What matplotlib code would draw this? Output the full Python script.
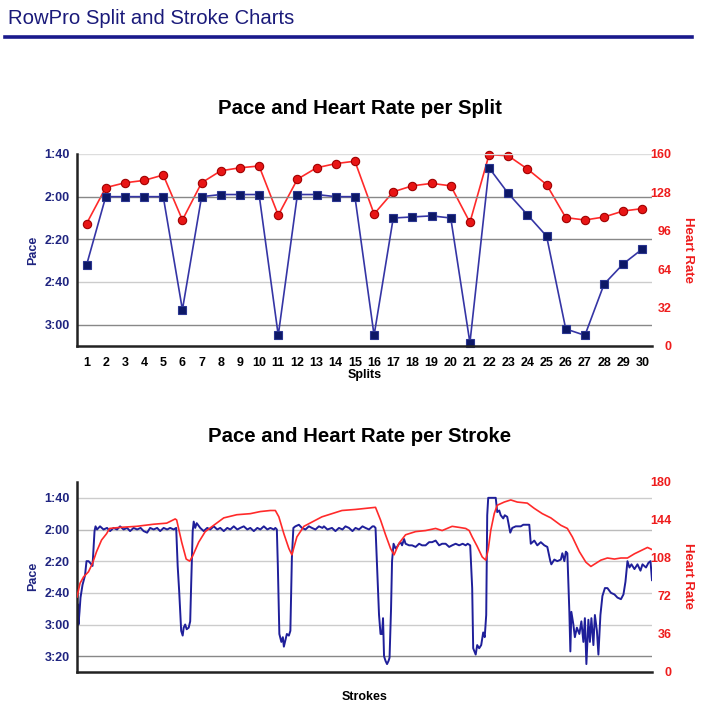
import matplotlib
matplotlib.use("Agg")
import matplotlib.pyplot as plt
from matplotlib.lines import Line2D
from matplotlib.ticker import FuncFormatter

plt.rcParams['font.family'] = ['Liberation Sans', 'DejaVu Sans']

# ---------------- data ----------------
splits = list(range(1, 31))
split_pace = [152, 120, 120, 120, 120, 173, 120, 119, 119, 119,
              185, 119, 119, 120, 120, 185, 130, 129.5, 129, 130,
              188.5, 106.5, 118.5, 128.5, 138.5, 182, 185, 161, 151.5, 144.5]
split_hr = [102, 132, 136, 138, 142.5, 105, 136, 146, 148.5, 150,
            109, 139, 148.5, 152, 154, 110, 128.5, 133.5, 135.5, 133.5,
            103, 159.5, 158.5, 147.5, 134.5, 107, 105, 107.5, 112.5, 114.5]

stroke_pace_x = [0, 1, 3, 5, 7, 11, 16, 19, 23, 26, 31, 35, 37, 40, 46, 53, 60, 66, 73, 80, 86, 93, 100,
                 106, 113, 120, 127, 133, 140, 146, 153, 160, 166, 173, 180, 186, 193, 198, 201, 204,
                 208, 211, 213, 216, 219, 223, 226, 228, 231, 233, 236, 239, 246, 253, 260, 266, 273,
                 280, 286, 293, 300, 306, 313, 320, 326, 333, 340, 346, 353, 360, 366, 373, 380, 386,
                 393, 396, 399, 401, 404, 408, 411, 413, 416, 419, 423, 426, 429, 432, 436, 443, 449,
                 456, 463, 469, 476, 483, 490, 493, 500, 509, 516, 523, 530, 536, 543, 550, 556, 563,
                 570, 576, 583, 590, 593, 596, 599, 603, 606, 609, 611, 613, 616, 619, 622, 624, 627,
                 629, 632, 636, 639, 643, 646, 649, 653, 656, 663, 669, 676, 683, 689, 696, 703, 709,
                 716, 723, 729, 736, 743, 749, 756, 763, 770, 776, 780, 785, 789, 791, 796, 799, 803,
                 807, 811, 814, 817, 818, 819, 821, 829, 836, 839, 843, 846, 851, 854, 859, 865, 869,
                 876, 886, 891, 896, 903, 906, 913, 919, 926, 933, 939, 945, 947, 953, 959, 966, 969,
                 973, 976, 979, 983, 985, 987, 991, 994, 998, 1003, 1007, 1011, 1014, 1017, 1021, 1024,
                 1027, 1031, 1034, 1038, 1041, 1045, 1049, 1054, 1059, 1066, 1073, 1079, 1086, 1091,
                 1095, 1099, 1103, 1107, 1113, 1119, 1125, 1129, 1136, 1141, 1145, 1148]
stroke_pace = [195, 167, 180, 172, 163, 155, 149, 140, 140, 141, 143, 121, 118, 120, 118, 120, 119, 121,
               119, 120, 118, 120, 119, 121, 119, 120, 119, 121, 122, 119, 120, 119, 121, 119, 120, 119,
               120, 119, 143, 159, 184, 187, 182, 180, 183, 182, 178, 154, 121, 115, 119, 116, 119, 121,
               119, 120, 118, 120, 119, 121, 119, 120, 118, 120, 119, 118, 120, 119, 121, 119, 120, 118,
               120, 119, 120, 119, 120, 143, 186, 191, 188, 194, 190, 186, 187, 184, 138, 119, 118, 117,
               119, 120, 118, 119, 120, 118, 119, 118, 120, 119, 121, 119, 120, 118, 119, 121, 119, 120,
               118, 119, 120, 118, 118, 119, 142, 174, 186, 186, 176, 200, 203, 205, 203, 201, 170, 140,
               129, 132, 131, 129, 128, 130, 126, 129, 130, 130, 131, 129, 130, 130, 128, 128, 127, 130,
               129, 129, 131, 130, 129, 130, 129, 130, 129, 130, 157, 195, 199, 193, 195, 193, 185, 188,
               174, 140, 111, 100, 100, 100, 109, 108, 111, 113, 111, 112, 122, 119, 118, 118, 117, 117,
               117, 129, 127, 130, 128, 130, 131, 140, 142, 139, 140, 139, 135, 140, 134, 135, 172, 197,
               172, 180, 188, 182, 186, 178, 191, 176, 205, 177, 191, 176, 193, 174, 184, 199, 174, 162,
               157, 157, 160, 161, 163, 164, 161, 153, 140, 144, 142, 145, 142, 146, 142, 144, 141, 140,
               152]

stroke_hr_x = [0, 6, 13, 23, 31, 39, 49, 59, 65, 86, 119, 153, 179, 196, 199, 209, 218, 225, 231, 243,
               256, 273, 293, 319, 346, 366, 386, 396, 403, 413, 423, 429, 439, 453, 469, 489, 509, 529,
               556, 576, 596, 606, 616, 626, 633, 643, 656, 676, 696, 716, 729, 749, 763, 776, 783, 789,
               799, 809, 816, 821, 826, 833, 839, 853, 866, 879, 899, 913, 929, 946, 966, 979, 989, 1003,
               1016, 1026, 1036, 1046, 1059, 1073, 1086, 1099, 1113, 1126, 1139, 1148]
stroke_hr = [71, 84, 90, 95, 103, 114, 125, 131, 136, 137, 138, 140, 141, 145, 144, 123, 107, 105, 110,
             123, 133, 139, 146, 149, 150, 152, 153, 153, 147, 131, 117, 111, 128, 138, 142, 147, 150, 153,
             154, 155, 156, 144, 130, 117, 111, 122, 130, 133, 134, 136, 134, 138, 137, 136, 134, 128, 119,
             109, 106, 116, 134, 150, 158, 161, 163, 161, 160, 155, 150, 146, 139, 136, 128, 114, 104, 100,
             103, 106, 108, 107, 108, 108, 112, 115, 118, 116]

split_pace_ticks = [100, 120, 140, 160, 180]
split_hr_ticks = [0, 32, 64, 96, 128, 160]
stroke_pace_ticks = [100, 120, 140, 160, 180, 200]
stroke_hr_ticks = [0, 36, 72, 108, 144, 180]

# ---------------- style ----------------
NAVY_TXT = '#1f2480'
RED_TXT = '#ee1c1c'
W, H = 709, 715


def fmt_pace(v, pos=None):
    v = int(round(v))
    return f"{v // 60}:{v % 60:02d}"


def px_axes(l, t, r, b):
    return [l / W, 1 - b / H, (r - l) / W, (b - t) / H]


fig = plt.figure(figsize=(W / 100, H / 100), dpi=100)
fig.patch.set_facecolor('white')

fig.text(8 / W, 1 - 18 / H, "RowPro Split and Stroke Charts", fontsize=14.6,
         color='#1a1a7a', ha='left', va='center')
fig.add_artist(Line2D([5 / W, 692 / W], [1 - 37 / H, 1 - 37 / H], lw=2.6, color='#1a1a8c'))


def style_axes(ax, ax2, pace_lim, pace_ticks, hr_lim, hr_ticks, grid_colors):
    ax.set_ylim(*pace_lim)
    ax.set_yticks(pace_ticks)
    ax.yaxis.set_major_formatter(FuncFormatter(fmt_pace))
    ax2.set_ylim(*hr_lim)
    ax2.set_yticks(hr_ticks)
    for sp in ['top', 'right']:
        ax.spines[sp].set_visible(False)
    for sp in ['top', 'right', 'left', 'bottom']:
        ax2.spines[sp].set_visible(False)
    for sp in ['left', 'bottom']:
        ax.spines[sp].set_color('#222222')
        ax.spines[sp].set_linewidth(1.8)
    ax.tick_params(axis='y', length=0, pad=5, labelsize=9, labelcolor=NAVY_TXT)
    for lab in ax.get_yticklabels():
        lab.set_fontweight('bold')
    ax2.tick_params(axis='y', length=0, pad=14, labelsize=9, labelcolor=RED_TXT)
    for lab in ax2.get_yticklabels():
        lab.set_fontweight('bold')
        lab.set_horizontalalignment('right')
    for t, c in zip(pace_ticks, grid_colors):
        ax.axhline(t, color=c, lw=1.0, zorder=0)


# ---------------- top chart ----------------
ax1 = fig.add_axes(px_axes(77, 154, 652, 346))
ax1b = ax1.twinx()
ax1.set_zorder(ax1b.get_zorder() + 1)
ax1.patch.set_visible(False)

ax1b.plot(splits, split_hr, color='#ff2a2a', lw=1.2, marker='o', markersize=6,
          markerfacecolor='#e81515', markeredgecolor='#a00000', markeredgewidth=0.8, clip_on=False)
ax1.plot(splits, split_pace, color='#3535a5', lw=1.2, marker='s', markersize=5.5,
         markerfacecolor='#0d1866', markeredgecolor='#2a3590', markeredgewidth=0.8, clip_on=False)
ax1.set_xlim(0.5, 30.5)
ax1.set_xticks(splits)
ax1.tick_params(axis='x', length=0, pad=8, labelsize=9)
for lab in ax1.get_xticklabels():
    lab.set_fontweight('bold')
style_axes(ax1, ax1b, (190, 100), split_pace_ticks, (0, 160), split_hr_ticks,
           ['#dddddd', '#888888', '#888888', '#cccccc', '#888888'])
ax1.set_xlabel("Splits", fontsize=9, fontweight='bold', labelpad=0)
ax1.text(-0.0765, 0.5, "Pace", transform=ax1.transAxes, rotation=90, ha='center', va='center',
         fontsize=9, fontweight='bold', color=NAVY_TXT)
ax1.text(1.0626, 0.5, "Heart Rate", transform=ax1.transAxes, rotation=-90, ha='center', va='center',
         fontsize=9.5, fontweight='bold', color=RED_TXT)
fig.text(360 / W, 1 - 108 / H, "Pace and Heart Rate per Split", ha='center', va='center',
         fontsize=14.7, fontweight='bold')

# ---------------- bottom chart ----------------
ax2 = fig.add_axes(px_axes(77, 482, 652, 672))
ax2b = ax2.twinx()
ax2b.plot(stroke_hr_x, stroke_hr, color='#ff2a2a', lw=1.2)
ax2.plot(stroke_pace_x, stroke_pace, color='#1f1f9a', lw=1.4)
ax2.set_xlim(0, 1148)
ax2.set_xticks([])
style_axes(ax2, ax2b, (210, 90), stroke_pace_ticks, (0, 180), stroke_hr_ticks,
           ['#cccccc', '#bbbbbb', '#cccccc', '#cccccc', '#cccccc', '#888888'])
ax2.text(0.5, -0.132, "Strokes", transform=ax2.transAxes, ha='center', va='center',
         fontsize=9, fontweight='bold')
ax2.text(-0.0765, 0.505, "Pace", transform=ax2.transAxes, rotation=90, ha='center', va='center',
         fontsize=9, fontweight='bold', color=NAVY_TXT)
ax2.text(1.0626, 0.505, "Heart Rate", transform=ax2.transAxes, rotation=-90, ha='center', va='center',
         fontsize=9.5, fontweight='bold', color=RED_TXT)
fig.text(360 / W, 1 - 436 / H, "Pace and Heart Rate per Stroke", ha='center', va='center',
         fontsize=14.7, fontweight='bold')

fig.savefig("out.png", dpi=100, facecolor='white')
